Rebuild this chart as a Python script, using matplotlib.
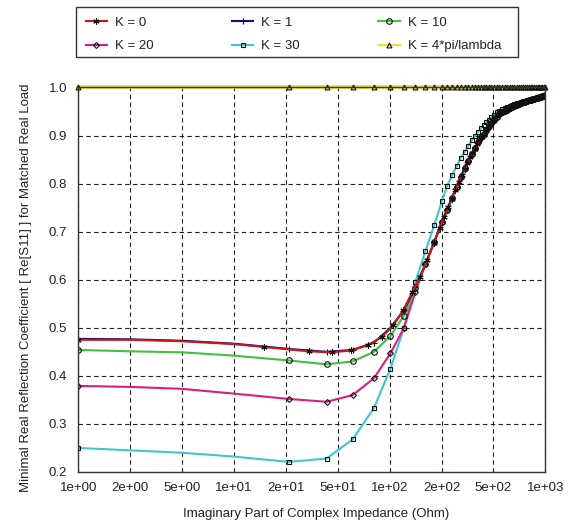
import numpy as np
import matplotlib
matplotlib.use('Agg')
import matplotlib.pyplot as plt
from matplotlib.patches import Rectangle

plt.rcParams['font.family'] = ['Liberation Sans', 'DejaVu Sans']

# x axis: 1-2-5 ticks drawn equally spaced
tick_vals = [1, 2, 5, 10, 20, 50, 100, 200, 500, 1000]
tick_labels = ['1e+00', '2e+00', '5e+00', '1e+01', '2e+01',
               '5e+01', '1e+02', '2e+02', '5e+02', '1e+03']
y_ticks = [0.2, 0.3, 0.4, 0.5, 0.6, 0.7, 0.8, 0.9, 1.0]
y_tick_labels = ['0.2', '0.3', '0.4', '0.5', '0.6', '0.7', '0.8', '0.9', '1.0']

# sample positions (Ohm)
x20 = [1, 2, 5, 10] + list(range(21, 1000, 20)) + [1000]
x15 = [1, 2, 5, 10] + list(range(15, 1000, 15)) + [1000]

# common upper branch (x = 161 ... 981, 1000)
tail = [0.632, 0.678, 0.720, 0.746, 0.771, 0.793, 0.814, 0.832, 0.848, 0.862,
        0.874, 0.886, 0.896, 0.903, 0.911, 0.919, 0.927, 0.933, 0.939, 0.944,
        0.948, 0.951, 0.954, 0.957, 0.960, 0.962, 0.964, 0.966, 0.967, 0.969,
        0.970, 0.972, 0.973, 0.974, 0.976, 0.977, 0.978, 0.979, 0.980, 0.981,
        0.982, 0.983, 0.984]

k0_y = [0.475, 0.475, 0.472, 0.466,
        0.460, 0.451, 0.449, 0.453, 0.464, 0.481, 0.505, 0.537, 0.574, 0.605,
        0.641, 0.676, 0.708, 0.731, 0.751, 0.769, 0.786, 0.803, 0.817, 0.830,
        0.843, 0.855, 0.864, 0.873, 0.882, 0.890, 0.896, 0.902, 0.909, 0.915,
        0.921, 0.927, 0.931, 0.936, 0.940, 0.944, 0.947, 0.950, 0.952, 0.954,
        0.956, 0.958, 0.960, 0.962, 0.963, 0.965, 0.966, 0.967, 0.968, 0.969,
        0.970, 0.971, 0.972, 0.973, 0.974, 0.975, 0.976, 0.977, 0.978, 0.979,
        0.980, 0.980, 0.981, 0.982, 0.983, 0.983,
        0.984]
k1_y = [0.477, 0.476, 0.473, 0.467, 0.456, 0.450, 0.454, 0.469, 0.500, 0.537, 0.585] + tail
k10_y = [0.454, 0.451, 0.449, 0.442, 0.432, 0.424, 0.430, 0.450, 0.483, 0.525, 0.583] + tail
k20_y = [0.379, 0.377, 0.373, 0.363, 0.352, 0.346, 0.360, 0.395, 0.447, 0.500, 0.575] + tail
k30_y = [0.250, 0.245, 0.240, 0.232, 0.221, 0.228, 0.268, 0.333, 0.415, 0.500, 0.596,
         0.659, 0.713, 0.763, 0.796, 0.818, 0.836, 0.854, 0.866, 0.879, 0.890,
         0.899, 0.908, 0.915, 0.923, 0.928, 0.933, 0.938, 0.942, 0.948, 0.952,
         0.955, 0.958, 0.960, 0.962, 0.964, 0.966, 0.967, 0.968, 0.969, 0.971,
         0.972, 0.973, 0.974, 0.975, 0.976, 0.977, 0.978, 0.979, 0.980, 0.981,
         0.982, 0.983, 0.984]
k4pi_y = [1.0] * len(x20)

log_t = np.log10(tick_vals)
pos_t = np.arange(len(tick_vals), dtype=float)


def fwd(x):
    lx = np.log10(np.clip(np.asarray(x, float), 1e-12, None))
    out = np.interp(lx, log_t, pos_t)
    out = np.where(lx < log_t[0], (lx - log_t[0]) / (log_t[1] - log_t[0]), out)
    out = np.where(lx > log_t[-1], pos_t[-1] + (lx - log_t[-1]) / (log_t[-1] - log_t[-2]), out)
    return out


def inv(p):
    p = np.asarray(p, float)
    lx = np.interp(p, pos_t, log_t)
    lx = np.where(p < 0, log_t[0] + p * (log_t[1] - log_t[0]), lx)
    lx = np.where(p > pos_t[-1], log_t[-1] + (p - pos_t[-1]) * (log_t[-1] - log_t[-2]), lx)
    return 10 ** lx


def every(n):
    # no markers on the extra points at 2, 5 and 10
    return [0] + list(range(4, n))


fig = plt.figure(figsize=(5.68, 5.29), dpi=100)
ax = fig.add_axes([0.1379, 0.1078, 0.8223, 0.7268])
ax.set_xscale('function', functions=(fwd, inv))

mk = dict(linewidth=1.5, markeredgecolor='#111111', markerfacecolor='none',
          markeredgewidth=0.8)
asterisk = (6, 2, 0)

l30, = ax.plot(x20, k30_y, color='#3ec8cc', marker='s', markersize=3.2,
               markevery=every(len(x20)), label='K = 30', **mk)
l20, = ax.plot(x20, k20_y, color='#d8207a', marker='D', markersize=3,
               markevery=every(len(x20)), label='K = 20', **mk)
l10, = ax.plot(x20, k10_y, color='#44c040', marker='o', markersize=4,
               markevery=every(len(x20)), label='K = 10', **mk)
l1, = ax.plot(x20, k1_y, color='#101080', marker='+', markersize=4.5,
              markevery=every(len(x20)), label='K = 1', **mk)
l0, = ax.plot(x15, k0_y, color='#cc1818', marker=asterisk, markersize=4.5,
              markevery=every(len(x15)), label='K = 0', **mk)
l4, = ax.plot(x20, k4pi_y, color='#e6e630', marker='^', markersize=3.5,
              markevery=every(len(x20)), label='K = 4*pi/lambda',
              clip_on=False, zorder=2, **mk)
l4.set_linewidth(2.6)

ax.set_xlim(1, 1000)
ax.set_ylim(0.2, 1.0)
ax.set_xticks(tick_vals)
ax.set_xticklabels(tick_labels)
ax.xaxis.set_minor_locator(matplotlib.ticker.NullLocator())
ax.set_yticks(y_ticks)
ax.set_yticklabels(y_tick_labels)
ax.tick_params(length=0, labelsize=9.5, labelcolor='#222222')
ax.tick_params(axis='y', pad=8)
ax.tick_params(axis='x', pad=7)

ax.set_axisbelow(True)
ax.grid(True, linestyle=(0, (4, 3)), color='#222222', linewidth=0.8)
for s in ax.spines.values():
    s.set_color('#333333')
    s.set_linewidth(1.0)

ax.set_xlabel('Imaginary Part of Complex Impedance (Ohm)', fontsize=9.5, color='#222222')
ax.xaxis.set_label_coords(0.51, -0.094)
ax.set_ylabel('Minimal Real Reflection Coefficient [ Re[S11] ] for Matched Real Load',
              fontsize=9.5, color='#222222')
ax.yaxis.set_label_coords(-0.099, 0.48)

handles = [l0, l20, l1, l30, l10, l4]
leg = fig.legend(handles, [h.get_label() for h in handles], loc='upper left',
                 bbox_to_anchor=(76 / 568, 1 - 7.3 / 529),
                 ncol=3, frameon=False,
                 fontsize=9.5, handlelength=1.65, handletextpad=0.6,
                 columnspacing=5.9, borderaxespad=0, borderpad=0.72,
                 labelspacing=0.85)
for t in leg.get_texts():
    t.set_color('#222222')
for h in leg.legend_handles:
    h.set_linewidth(1.5)
# legend frame box
fig.patches.append(Rectangle((76 / 568, 1 - 56.7 / 529), 442.3 / 568, 49.4 / 529,
                             transform=fig.transFigure, fill=False,
                             edgecolor='#333333', linewidth=1.0))

fig.savefig('out.png', dpi=100)
